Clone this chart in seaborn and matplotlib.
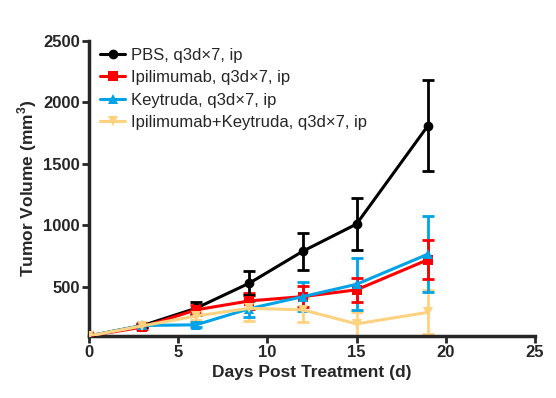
import numpy as np
import pandas as pd
import matplotlib
matplotlib.use("Agg")
import matplotlib.pyplot as plt
import seaborn as sb

days = [0, 3, 6, 9, 12, 15, 19]
groups = ["PBS, q3d\u00d77, ip",
          "Ipilimumab, q3d\u00d77, ip",
          "Keytruda, q3d\u00d77, ip",
          "Ipilimumab+Keytruda, q3d\u00d77, ip"]
pbs = [100, 184, 325, 530, 790, 1010, 1810]
pbs_err = [0, 15, 55, 95, 150, 210, 370]
ipi = [100, 172, 312, 385, 420, 475, 720]
ipi_err = [0, 12, 40, 62, 85, 100, 160]
key = [100, 185, 190, 322, 420, 520, 765]
key_err = [0, 10, 20, 65, 115, 210, 310]
combo = [100, 182, 262, 325, 312, 198, 292]
combo_err = [0, 12, 30, 100, 100, 95, 180]

colors = ["#000000", "#FF0000", "#00A2E8", "#FFD27F"]
markers = ["o", "s", "^", "v"]

df = pd.DataFrame({
    "day": days * 4,
    "volume": pbs + ipi + key + combo,
    "err": pbs_err + ipi_err + key_err + combo_err,
    "group": [g for g in groups for _ in days],
})

sb.set_style("ticks")
plt.rcParams['font.family'] = ['Liberation Sans', 'DejaVu Sans']
plt.rcParams['mathtext.fontset'] = 'custom'
plt.rcParams['mathtext.rm'] = 'Liberation Sans'
plt.rcParams['mathtext.bf'] = 'Liberation Sans:bold'

fig = plt.figure(figsize=(5.56, 3.98), dpi=100)
ax = fig.add_axes([0.160, 0.156, 0.802, 0.741])

# error bars first, combo at the bottom, PBS on top
for i in [3, 2, 1, 0]:
    sub = df[df["group"] == groups[i]]
    ax.errorbar(sub["day"], sub["volume"], yerr=sub["err"], fmt="none",
                ecolor=colors[i], elinewidth=2, capsize=4, capthick=2,
                zorder=2 + (3 - i))

sb.lineplot(data=df, x="day", y="volume", hue="group", style="group",
            hue_order=groups, style_order=groups,
            palette=colors, markers=markers, dashes=False,
            linewidth=2.2, markersize=7, markeredgewidth=0, ax=ax, zorder=6)

ax.set_xlim(0, 25)
ax.set_ylim(100, 2500)
ax.set_xticks([0, 5, 10, 15, 20, 25])
ax.set_yticks([500, 1000, 1500, 2000, 2500])
ax.set_xlabel("Days Post Treatment (d)", fontsize=12.5, fontweight="bold", labelpad=4)
ax.set_ylabel(r"Tumor Volume (mm$^\mathbf{3}$)", fontsize=12.5, fontweight="bold", labelpad=3)
for lab in ax.get_xticklabels() + ax.get_yticklabels():
    lab.set_fontweight("bold")
    lab.set_fontsize(12)
ax.tick_params(width=2, length=5, direction="out", pad=1.5)
for s in ["top", "right"]:
    ax.spines[s].set_visible(False)
for s in ["left", "bottom"]:
    ax.spines[s].set_linewidth(2.5)

leg = ax.legend(loc="upper left", frameon=False, fontsize=12,
                handlelength=1.5, handletextpad=0.35, labelspacing=0.45,
                borderaxespad=0.0, bbox_to_anchor=(0.01, 1.0))

plt.savefig("out.png", dpi=100)
